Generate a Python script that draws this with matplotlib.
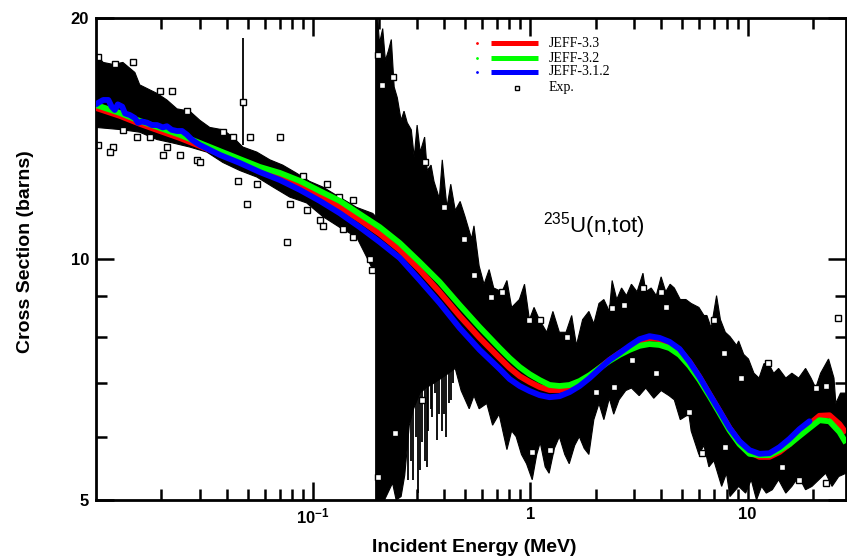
import matplotlib
matplotlib.use("Agg")
import matplotlib.pyplot as plt
import numpy as np

plt.rcParams['font.family'] = ['Liberation Sans', 'DejaVu Sans']
plt.rcParams['mathtext.fontset'] = 'custom'
plt.rcParams['mathtext.rm'] = 'Liberation Sans'
plt.rcParams['mathtext.bf'] = 'Liberation Sans:bold'

# ---- evaluated total cross sections (MeV, barns) ----
e_grid = [0.0100, 0.01289, 0.01593, 0.01969, 0.02434, 0.03008, 0.03718, 0.04595, 0.0568, 0.0702,
          0.0868, 0.1072, 0.1325, 0.1638, 0.2025, 0.2503, 0.3093, 0.3823, 0.4726, 0.5841,
          0.7219, 0.8027, 0.8924, 0.9922, 1.103, 1.226, 1.363, 1.516, 1.685, 1.873,
          2.083, 2.315, 2.574, 2.862, 3.182, 3.537, 3.933, 4.372, 4.861, 5.405,
          6.009, 6.680, 7.427, 8.258, 9.181, 10.21, 11.35, 12.62, 14.03, 15.59,
          17.34, 19.28, 21.43, 23.83, 26.49, 28.4]

xs_jeff33 = [15.44, 15.09, 14.75, 14.45, 14.16, 13.84, 13.53, 13.22, 12.92, 12.66,
             12.34, 11.99, 11.61, 11.19, 10.75, 10.26, 9.69, 9.09, 8.49, 7.97,
             7.52, 7.31, 7.14, 7.02, 6.92, 6.86, 6.86, 6.90, 7.00, 7.14,
             7.31, 7.48, 7.63, 7.76, 7.90, 7.97, 7.94, 7.85, 7.70, 7.44,
             7.12, 6.78, 6.46, 6.15, 5.91, 5.74, 5.66, 5.66, 5.74, 5.87,
             6.05, 6.22, 6.37, 6.38, 6.22, 6.06]

xs_jeff32 = [15.57, 15.22, 14.87, 14.58, 14.29, 13.96, 13.64, 13.33, 13.03, 12.81,
             12.52, 12.16, 11.82, 11.38, 10.96, 10.47, 9.91, 9.36, 8.76, 8.22,
             7.74, 7.52, 7.33, 7.18, 7.06, 6.96, 6.94, 6.96, 7.04, 7.16,
             7.31, 7.46, 7.59, 7.70, 7.79, 7.83, 7.81, 7.74, 7.59, 7.35,
             7.06, 6.74, 6.42, 6.11, 5.87, 5.71, 5.69, 5.69, 5.77, 5.87,
             6.01, 6.15, 6.29, 6.27, 6.08, 5.89]

# JEFF-3.1.2 keeps the resonance structure at low energy and stops at 20 MeV
e_jeff312 = [0.0100, 0.0102, 0.0108, 0.0114, 0.0118, 0.0122, 0.0126, 0.0132, 0.0136, 0.0143,
             0.0151, 0.0156, 0.0163, 0.0172, 0.0181, 0.0191, 0.0203, 0.0212, 0.0223, 0.0236,
             0.0249, 0.0262, 0.0276, 0.0291] + e_grid[5:52]
xs_jeff312 = [15.6, 15.66, 15.8, 15.8, 15.5, 15.35, 15.6, 15.5, 15.2, 15.13,
              15.0, 14.8, 14.85, 14.8, 14.7, 14.7, 14.6, 14.65, 14.5, 14.45,
              14.45, 14.3, 14.1, 13.96,
              13.88, 13.49, 13.18, 12.84, 12.55, 12.20, 11.82, 11.41, 10.96, 10.50,
              10.03, 9.41, 8.81, 8.20, 7.70, 7.29, 7.08, 6.94, 6.84, 6.76,
              6.72, 6.74, 6.82, 6.94, 7.10, 7.29, 7.48, 7.63, 7.79, 7.94,
              8.01, 7.97, 7.88, 7.72, 7.44, 7.12, 6.78, 6.46, 6.15, 5.92,
              5.77, 5.71, 5.72, 5.82, 5.96, 6.13, 6.27]

# ---- experimental data ----
# dense low-energy cloud: upper / lower edges
band_e_hi = [0.0100, 0.0108, 0.0120, 0.0133, 0.0151, 0.0159, 0.0191, 0.0212, 0.0236, 0.027,
             0.0301, 0.0334, 0.0384, 0.0427, 0.0474, 0.055, 0.0632, 0.0724, 0.0838, 0.0963,
             0.1107, 0.132, 0.1585, 0.1881, 0.194]
band_xs_hi = [18.0, 17.6, 17.5, 17.6, 17.1, 16.5, 16.1, 15.8, 15.4, 15.3,
              14.9, 14.6, 14.5, 14.2, 13.8, 13.6, 13.3, 13.1, 12.8, 12.5,
              12.3, 11.95, 11.6, 11.4, 11.3]
band_e_lo = [0.0100, 0.0133, 0.0159, 0.0191, 0.0226, 0.027, 0.0324, 0.0384, 0.0459, 0.055,
             0.0653, 0.078, 0.0933, 0.1107, 0.132, 0.1585, 0.1762, 0.188, 0.194]
band_xs_lo = [14.6, 14.5, 14.4, 14.1, 13.96, 13.8, 13.6, 13.2, 12.9, 12.66,
              12.3, 11.95, 11.75, 11.3, 10.96, 10.65, 10.06, 9.7, 9.6]

# fast-neutron region: envelope of the error bars
spk_e_hi = [0.194, 0.198, 0.202, 0.209, 0.215, 0.222, 0.229, 0.236, 0.244, 0.254,
            0.262, 0.271, 0.283, 0.292, 0.301, 0.311, 0.326, 0.335, 0.349, 0.36,
            0.381, 0.393, 0.413, 0.43, 0.451, 0.475, 0.50, 0.536, 0.55, 0.581,
            0.612, 0.646, 0.678, 0.74, 0.78, 0.82, 0.89, 0.94, 0.99, 1.04,
            1.10, 1.19, 1.27, 1.36, 1.46, 1.55, 1.63, 1.74, 1.86, 1.96,
            2.07, 2.18, 2.31, 2.38, 2.5, 2.63, 2.77, 2.92, 3.1, 3.3,
            3.4, 3.6, 3.8, 4.0, 4.2, 4.4, 4.6, 4.9, 5.2, 5.5,
            5.97, 6.3, 6.5, 6.8, 7.2, 7.5, 7.9, 8.3, 8.9, 9.1,
            9.6, 10.1, 10.7, 11.3, 11.9, 12.5, 13.2, 13.9, 15.0, 16.0,
            17.2, 18.5, 19.6, 20.6, 21.7, 23.6, 25.0, 25.5, 26.8, 28.4]
spk_xs_hi = [20.0, 20.0, 18.6, 19.4, 17.7, 18.2, 18.8, 16.4, 15.9, 14.9,
             15.3, 14.8, 14.5, 13.4, 14.7, 13.6, 14.2, 12.9, 13.1, 12.5,
             11.9, 13.3, 11.6, 12.4, 11.5, 11.8, 11.3, 10.6, 11.0, 9.8,
             9.3, 9.7, 9.2, 9.1, 9.4, 8.7, 8.9, 9.3, 8.4, 8.7,
             8.4, 8.1, 8.6, 8.1, 8.1, 8.5, 7.8, 8.4, 8.6, 8.3,
             8.8, 8.9, 8.6, 9.4, 8.9, 9.2, 9.0, 9.3, 9.1, 9.6,
             9.1, 9.2, 9.0, 9.5, 9.1, 9.3, 9.2, 8.9, 8.9, 8.8,
             8.7, 8.5, 8.5, 8.2, 9.0, 8.4, 8.1, 8.0, 7.8, 7.9,
             7.6, 7.5, 7.2, 7.1, 7.4, 7.4, 7.2, 7.3, 7.1, 7.2,
             7.1, 7.3, 7.1, 6.9, 7.2, 7.5, 7.1, 6.6, 6.8, 6.8]
spk_e_lo = [0.194, 0.213, 0.232, 0.241, 0.254, 0.264, 0.277, 0.29, 0.31, 0.33,
            0.36, 0.39, 0.42, 0.451, 0.48, 0.523, 0.55, 0.581, 0.63, 0.67,
            0.718, 0.78, 0.82, 0.86, 0.91, 0.96, 1.02, 1.07, 1.11, 1.17,
            1.22, 1.29, 1.36, 1.44, 1.51, 1.6, 1.68, 1.77, 1.86, 1.96,
            2.07, 2.18, 2.31, 2.42, 2.56, 2.75, 2.92, 3.17, 3.4, 3.7,
            4.0, 4.35, 4.6, 4.9, 5.37, 5.5, 5.97, 6.3, 6.64, 7.0,
            7.6, 8.0, 8.3, 9.1, 9.8, 10.4, 11.0, 11.6, 12.2, 13.0,
            13.9, 15.0, 16.0, 17.2, 18.5, 19.8, 21.3, 22.9, 24.5, 26.3,
            28.4]
spk_xs_lo = [5.0, 5.0, 5.25, 5.0, 5.05, 5.37, 6.2, 6.5, 6.8, 6.9,
             7.0, 7.1, 7.2, 7.3, 6.85, 6.5, 6.75, 6.5, 6.6, 6.2,
             6.4, 5.78, 6.1, 6.0, 5.7, 5.55, 5.3, 5.7, 5.9, 5.5,
             5.4, 5.8, 6.0, 5.7, 5.55, 5.85, 6.0, 5.8, 5.7, 6.3,
             6.6, 6.3, 6.7, 6.4, 6.67, 6.85, 6.9, 6.75, 6.9, 6.7,
             6.85, 6.75, 6.67, 6.3, 6.4, 6.1, 5.7, 5.85, 5.5, 5.6,
             5.2, 5.4, 5.05, 5.2, 5.1, 5.3, 5.0, 5.2, 5.1, 5.15,
             5.3, 5.1, 5.2, 5.35, 5.15, 5.2, 5.3, 5.4, 5.2, 5.35,
             5.4]

# isolated error bars
bar_e = [0.0474, 0.272, 0.281, 0.288, 0.297, 0.304, 0.311, 0.318, 0.326, 0.333, 0.339,
         0.347, 0.354, 0.362, 0.373, 0.381, 0.393, 0.402, 0.41, 0.42, 0.43, 0.44]
bar_lo = [13.9, 5.3, 5.6, 5.3, 6.0, 5.1, 5.45, 5.9, 5.6, 5.5, 6.1,
          6.5, 6.35, 6.8, 5.94, 6.4, 6.1, 6.4, 6.0, 6.6, 6.67, 7.0]
bar_hi = [18.9, 8.0, 8.0, 8.0, 8.0, 8.0, 8.0, 8.0, 8.0, 8.0, 8.0,
          8.0, 8.0, 8.0, 8.0, 8.0, 8.0, 8.0, 8.0, 8.0, 8.0, 8.0]

# individual points outside the dense cloud
pt_e = [0.0102, 0.01223, 0.0148, 0.0197, 0.0224, 0.0262, 0.0384, 0.0427, 0.0511, 0.0701,
        0.0474, 0.0894, 0.1153, 0.132, 0.152, 0.0102, 0.0120, 0.0116, 0.0203, 0.0243,
        0.0291, 0.045, 0.0494, 0.0755, 0.055, 0.0781, 0.0933, 0.107, 0.1107, 0.1367,
        0.152, 0.182, 0.186, 0.0133, 0.01543, 0.0177, 0.0212, 0.0301,
        0.198, 0.208, 0.232, 0.326, 0.401, 0.496, 0.55, 0.66, 0.74, 0.99, 1.11, 1.47,
        1.02, 1.23, 0.198, 0.237, 0.318, 2.0, 2.42, 2.95, 3.8, 5.37, 6.2, 7.0, 7.8,
        7.9, 9.3, 12.4, 14.4, 17.2, 20.6, 23.0, 23.0, 2.38, 2.7, 3.3, 4.0, 4.2, 26.0]
pt_xs = [17.9, 17.5, 17.6, 16.2, 16.2, 15.3, 14.4, 14.2, 14.2, 14.2,
         15.7, 12.7, 12.4, 11.95, 11.85, 13.9, 13.8, 13.6, 13.5, 13.5,
         13.3, 12.5, 11.7, 10.5, 12.4, 11.7, 11.5, 11.2, 11.0, 10.9,
         10.65, 10.0, 9.7, 14.5, 14.2, 14.2, 13.8, 13.2,
         18.0, 16.5, 16.9, 13.2, 11.6, 10.6, 9.55, 8.96, 9.1, 8.4, 8.4, 8.0,
         5.74, 5.77, 5.34, 6.06, 6.67, 6.82, 6.92, 7.48, 7.2, 6.44, 5.72, 8.4, 7.63,
         5.83, 7.1, 7.41, 5.5, 5.3, 6.9, 6.94, 5.25, 8.69, 8.75, 9.2, 9.1, 8.7, 8.44]

fig = plt.figure(figsize=(8.47, 5.6), dpi=100)
ax = fig.add_axes([96 / 847, 60 / 560, 750 / 847, 482 / 560])
ax.set_xscale('log')
ax.set_yscale('log')

# experimental data
ax.fill(np.r_[band_e_hi, band_e_lo[::-1]], np.r_[band_xs_hi, band_xs_lo[::-1]],
        color='black', lw=0.8, zorder=1)
ax.fill(np.r_[spk_e_hi, spk_e_lo[::-1]], np.r_[spk_xs_hi, spk_xs_lo[::-1]],
        color='black', lw=0.8, zorder=1)
ax.vlines(bar_e, bar_lo, bar_hi, color='black', lw=1.3, zorder=1)
ax.plot(pt_e, pt_xs, ls='none', marker='s', ms=4.2, mfc='white', mec='black',
        mew=1.0, zorder=2)

# evaluations
ax.plot(e_grid, xs_jeff33, color='#ff0000', lw=4.2, zorder=3, solid_capstyle='butt')
ax.plot(e_grid, xs_jeff32, color='#00ff00', lw=4.2, zorder=4, solid_capstyle='butt')
ax.plot(e_jeff312, xs_jeff312, color='#0000ff', lw=4.2, zorder=5, solid_capstyle='round')

ax.set_xlim(0.01, 28.4)
ax.set_ylim(5, 20)

ax.set_xticks([0.1, 1, 10], labels=[r'$\mathbf{10^{-1}}$', '1', '10'])
ax.set_xticks([k * d for d in (0.01, 0.1, 1) for k in range(2, 10)] + [20], minor=True)
ax.set_yticks([5, 10, 20], labels=['5', '10', '20'])
ax.set_yticks([6, 7, 8, 9], minor=True)
ax.xaxis.set_minor_formatter(matplotlib.ticker.NullFormatter())
ax.yaxis.set_minor_formatter(matplotlib.ticker.NullFormatter())
ax.tick_params(which='both', direction='in', top=True, right=True, width=1.8,
               labelsize=12, pad=5)
ax.tick_params(which='major', length=13)
ax.tick_params(which='minor', length=8)
for lbl in ax.get_xticklabels() + ax.get_yticklabels():
    lbl.set_fontweight('bold')
for sp in ax.spines.values():
    sp.set_linewidth(2.0)

# legend drawn by hand
leg_y = [0.948, 0.917, 0.888]
names = ['JEFF-3.3', 'JEFF-3.2', 'JEFF-3.1.2']
cols = ['#ff0000', '#00ff00', '#0000ff']
for y, n, c in zip(leg_y, names, cols):
    ax.plot([0.508], [y], marker='.', ms=2, color=c, transform=ax.transAxes, zorder=6)
    ax.plot([0.527, 0.589], [y, y], color=c, lw=3.6, transform=ax.transAxes,
            solid_capstyle='butt', zorder=6)
    ax.text(0.603, y, n, transform=ax.transAxes, va='center', ha='left',
            family='Liberation Serif', fontsize=10, zorder=6)
ax.plot([0.561], [0.855], marker='s', ms=3.5, mfc='white', mec='black', mew=1.0,
        transform=ax.transAxes, zorder=6)
ax.text(0.603, 0.855, 'Exp.', transform=ax.transAxes, va='center', ha='left',
        family='Liberation Serif', fontsize=10, zorder=6)

ax.text(0.596, 0.5685, r'$^{235}$U(n,tot)', transform=ax.transAxes, va='center',
        ha='left', fontsize=16)

fig.text(25 / 847, 1 - 252 / 560, 'Cross Section (barns)', rotation=90,
         ha='center', va='center', fontsize=14, fontweight='bold')
fig.text(474 / 847, 1 - 548 / 560, 'Incident Energy (MeV)', ha='center', va='center',
         fontsize=14, fontweight='bold')

fig.savefig('out.png', dpi=100)
